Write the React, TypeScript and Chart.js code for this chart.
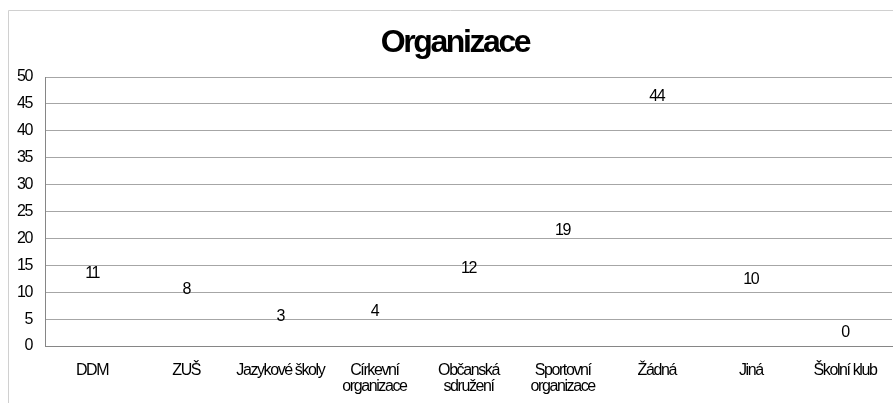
import React, { useEffect, useRef } from "react";
import { Chart, registerables } from "chart.js";

Chart.register(...registerables);

const title = "Organizace";
const categories: (string | string[])[] = [
  "DDM",
  "ZUŠ",
  "Jazykové školy",
  ["Církevní", "organizace"],
  ["Občanská", "sdružení"],
  ["Sportovní", "organizace"],
  "Žádná",
  "Jiná",
  "Školní klub",
];
const values = [11, 8, 3, 4, 12, 19, 44, 10, 0];
const yMin = 0;
const yMax = 50;
const yStep = 5;

const FONT = "'Liberation Sans', Arial, sans-serif";

const decorPlugin = {
  id: "decor",
  beforeDraw(chart: any) {
    const ctx = chart.ctx;
    ctx.save();
    ctx.fillStyle = "#ffffff";
    ctx.fillRect(0, 0, chart.width, chart.height);
    ctx.strokeStyle = "#d0d0d0";
    ctx.lineWidth = 1;
    ctx.beginPath();
    ctx.moveTo(8.5, chart.height);
    ctx.lineTo(8.5, 10.5);
    ctx.lineTo(chart.width, 10.5);
    ctx.stroke();
    ctx.restore();
    ctx.letterSpacing = "-1.4px";
  },
  afterDraw(chart: any) {
    const ctx = chart.ctx;
    ctx.save();
    ctx.fillStyle = "#000000";
    ctx.letterSpacing = "-2.4px";
    ctx.font = `bold 32px ${FONT}`;
    ctx.textAlign = "center";
    ctx.textBaseline = "alphabetic";
    ctx.fillText(title, 455, 52);
    const meta = chart.getDatasetMeta(0);
    const yScale = chart.scales.y;
    ctx.letterSpacing = "-1.4px";
    ctx.font = `16px ${FONT}`;
    ctx.textBaseline = "middle";
    meta.data.forEach((el: any, i: number) => {
      const v = chart.data.datasets[0].data[i];
      const y = yScale.getPixelForValue(v) - 13;
      ctx.fillText(String(v), el.x, y);
    });
    ctx.restore();
    ctx.letterSpacing = "0px";
  },
};

export default function App() {
  const ref = useRef<HTMLCanvasElement>(null);
  useEffect(() => {
    if (!ref.current) return;
    const chart = new Chart(ref.current, {
      type: "bar",
      data: {
        labels: categories,
        datasets: [
          {
            data: values,
            backgroundColor: "rgba(0,0,0,0)",
            borderWidth: 0,
          },
        ],
      },
      options: {
        animation: false,
        responsive: false,
        events: [],
        layout: { padding: { top: 77, left: 0, right: 1, bottom: 0 } },
        plugins: {
          legend: { display: false },
          title: { display: false },
          tooltip: { enabled: false },
        },
        scales: {
          x: {
            grid: { display: false, drawTicks: false },
            border: { display: true, color: "#868686", width: 1 },
            ticks: {
              color: "#000000",
              font: { family: FONT, size: 16, lineHeight: 1 },
              padding: 17,
              maxRotation: 0,
              autoSkip: false,
            },
            afterFit: (s: any) => {
              s.height = 57;
              s.paddingLeft = 0;
              s.paddingRight = 0;
            },
          },
          y: {
            min: yMin,
            max: yMax,
            grid: { color: "#a6a6a6", drawTicks: false },
            border: { display: true, color: "#868686", width: 1 },
            ticks: {
              stepSize: yStep,
              color: "#000000",
              font: { family: FONT, size: 16 },
              padding: 13,
            },
            afterFit: (s: any) => {
              s.width = 45;
              s.paddingTop = 0;
              s.paddingBottom = 0;
            },
          },
        },
      },
      plugins: [decorPlugin],
    });
    return () => chart.destroy();
  }, []);
  return (
    <div style={{ position: "absolute", left: 0, top: 0, width: 893, height: 403, overflow: "hidden", background: "#fff" }}>
      <canvas ref={ref} width={893} height={403} style={{ display: "block" }} />
    </div>
  );
}
